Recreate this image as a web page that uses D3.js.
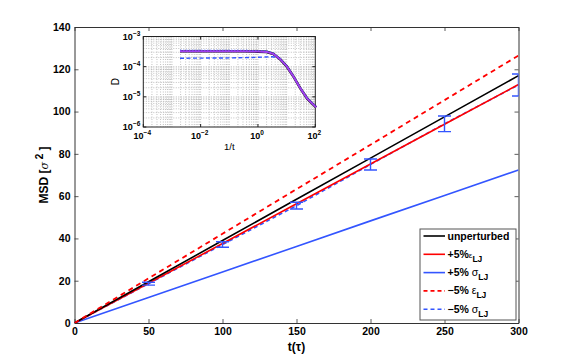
<!DOCTYPE html>
<html><head><meta charset="utf-8">
<script src="https://cdn.jsdelivr.net/npm/d3@7"></script>
<style>
body{margin:0;background:#fff;}
svg{display:block;font-family:"Liberation Sans",Arial,Helvetica,sans-serif;}
</style></head>
<body>
<svg id="c" width="573" height="364"></svg>
<script>
// ---------- data ----------
const times = [0, 50, 100, 150, 200, 250, 300];
const unperturbed = [0, 19.5, 39.0, 58.5, 78.0, 97.5, 117.0];
const plusEps = [0, 18.8, 37.6, 56.4, 75.2, 94.0, 112.8];
const plusSigma = [0, 12.1, 24.1, 36.2, 48.3, 60.3, 72.4];
const minusEps = [0, 21.1, 42.2, 63.3, 84.3, 105.4, 126.5];
const minusSigma = [0, 18.6, 37.1, 55.5, 75.0, 94.2, 112.6];
const errTimes = [50, 100, 150, 200, 250, 300];
const errHalf = [0.7, 1.3, 1.6, 2.6, 3.7, 5.2];
const xTicks = [0, 50, 100, 150, 200, 250, 300];
const yTicks = [0, 20, 40, 60, 80, 100, 120, 140];

// inset: log10(1/t) and log10(D)
const insetLogInvT = [-2.72, -1.5, -0.5, 0.0, 0.3, 0.54, 0.78, 1.01, 1.24, 1.48, 1.71, 2.03];
const insetLogD =     [-3.49, -3.49, -3.49, -3.5, -3.51, -3.58, -3.76, -4.0, -4.33, -4.72, -5.05, -5.35];
const insetDashLogInvT = [-2.72, -1.0, 0.0, 0.5, 0.7, 0.8];
const insetDashLogD =     [-3.72, -3.71, -3.69, -3.67, -3.71, -3.76];
const insetXTickExp = [-4, -2, 0, 2];
const insetYTickExp = [-6, -5, -4, -3];

const legendItems = [
  {pre: "unperturbed", greek: "", sub: "", color: "#000", dash: null},
  {pre: "+5%", greek: "ε", sub: "LJ", color: "#ff0000", dash: null},
  {pre: "+5% ", greek: "σ", sub: "LJ", color: "#3355ff", dash: null},
  {pre: "−5% ", greek: "ε", sub: "LJ", color: "#ff0000", dash: "4,3"},
  {pre: "−5% ", greek: "σ", sub: "LJ", color: "#3355ff", dash: "4,3"}
];

// ---------- main chart ----------
const svg = d3.select("#c");
const L = 74.5, R = 518.5, T = 27, B = 323;
const x = d3.scaleLinear().domain([0, 300]).range([L, R]);
const y = d3.scaleLinear().domain([0, 140]).range([B, T]);

svg.append("defs").append("clipPath").attr("id", "plotclip")
  .append("rect").attr("x", L).attr("y", T).attr("width", R - L).attr("height", B - T);

const axisColor = "#333";
const gx = svg.append("g").attr("transform", `translate(0,${B})`)
  .call(d3.axisBottom(x).tickValues(xTicks).tickSizeInner(-4).tickSizeOuter(0).tickPadding(5));
const gy = svg.append("g").attr("transform", `translate(${L},0)`)
  .call(d3.axisLeft(y).tickValues(yTicks).tickSizeInner(-4).tickSizeOuter(0).tickPadding(4));
const gxt = svg.append("g").attr("transform", `translate(0,${T})`)
  .call(d3.axisTop(x).tickValues(xTicks).tickSizeInner(-4).tickSizeOuter(0).tickFormat(""));
const gyr = svg.append("g").attr("transform", `translate(${R},0)`)
  .call(d3.axisRight(y).tickValues(yTicks).tickSizeInner(-4).tickSizeOuter(0).tickFormat(""));
[gx, gy, gxt, gyr].forEach(g => {
  g.selectAll("path").attr("stroke", axisColor).attr("stroke-width", 1);
  g.selectAll("line").attr("stroke", axisColor).attr("stroke-width", 0.8);
  g.selectAll("text").attr("font-size", 10.5).attr("font-weight", "bold").attr("fill", "#000");
});

const plot = svg.append("g").attr("clip-path", "url(#plotclip)");
const line = d3.line().x((d, i) => x(times[i])).y(d => y(d));
function drawLine(vals, color, dash, w) {
  plot.append("path").datum(vals).attr("d", line).attr("fill", "none")
    .attr("stroke", color).attr("stroke-width", w)
    .attr("stroke-dasharray", dash);
}
drawLine(plusSigma, "#3355ff", null, 1.6);
drawLine(minusSigma, "#3355ff", "4,3", 1.6);
drawLine(plusEps, "#ff0000", null, 1.6);
drawLine(unperturbed, "#000", null, 1.6);
drawLine(minusEps, "#ff0000", "5,4", 1.8);

// error bars
const eb = plot.append("g").attr("stroke", "#3355ff").attr("stroke-width", 1.4);
errTimes.forEach((t, i) => {
  const c = minusSigma[times.indexOf(t)];
  const x0 = x(t), y1 = y(c + errHalf[i]), y2 = y(c - errHalf[i]);
  eb.append("line").attr("x1", x0).attr("x2", x0).attr("y1", y1).attr("y2", y2);
  eb.append("line").attr("x1", x0 - 6.5).attr("x2", x0 + 6.5).attr("y1", y1).attr("y2", y1);
  eb.append("line").attr("x1", x0 - 6.5).attr("x2", x0 + 6.5).attr("y1", y2).attr("y2", y2);
});

// axis labels
svg.append("text").attr("x", x(150)).attr("y", 351).attr("text-anchor", "middle")
  .attr("font-size", 12).attr("font-weight", "bold").text("t(τ)");
const yl = svg.append("text").attr("transform", `translate(48,${(T + B) / 2}) rotate(-90)`)
  .attr("text-anchor", "middle").attr("font-size", 12).attr("font-weight", "bold");
yl.append("tspan").text("MSD [");
yl.append("tspan").attr("font-weight", "normal").attr("font-family", "DejaVu Serif, serif").attr("font-style","italic").attr("font-size", 11).text("σ");
yl.append("tspan").attr("dy", -5).attr("font-size", 10).text(" 2");
yl.append("tspan").attr("dy", 5).text(" ]");

// ---------- legend ----------
const lg = svg.append("g");
lg.append("rect").attr("x", 420).attr("y", 229).attr("width", 96).attr("height", 91)
  .attr("fill", "#fff").attr("stroke", "#555").attr("stroke-width", 1);
legendItems.forEach((it, i) => {
  const yy = 236 + i * 18.3;
  lg.append("line").attr("x1", 423.5).attr("x2", 445).attr("y1", yy).attr("y2", yy)
    .attr("stroke", it.color).attr("stroke-width", 1.6).attr("stroke-dasharray", it.dash);
  const tx = lg.append("text").attr("x", 447.5).attr("y", yy + 3.5).attr("font-size", 10.5).attr("font-weight", "bold");
  tx.append("tspan").text(it.pre);
  if (it.greek) {
    tx.append("tspan").attr("font-weight", "normal").attr("font-size", i === 1 ? 8 : 10.5).text(it.greek);
    tx.append("tspan").attr("dy", 4).attr("font-size", 8.5).text(it.sub);
  }
});

// ---------- inset ----------
const iL = 143.3, iR = 315.3, iT = 36.5, iB = 127;
const ix = d3.scaleLog().domain([1e-4, 1e2]).range([iL, iR]);
const iy = d3.scaleLog().domain([1e-6, 1e-3]).range([iB, iT]);
const ins = svg.append("g");
ins.append("rect").attr("x", iL).attr("y", iT).attr("width", iR - iL).attr("height", iB - iT).attr("fill", "#fff");

// grid
const gridG = ins.append("g").attr("stroke", "#999").attr("stroke-width", 0.6).attr("stroke-dasharray", "1,1.5");
for (let e = -4; e < 2; e++) for (let m = 1; m <= 9; m++) {
  const v = m * Math.pow(10, e); if (v <= 1e-4) continue;
  gridG.append("line").attr("x1", ix(v)).attr("x2", ix(v)).attr("y1", iT).attr("y2", iB);
}
for (let e = -6; e < -3; e++) for (let m = 1; m <= 9; m++) {
  const v = m * Math.pow(10, e); if (v <= 1e-6) continue;
  gridG.append("line").attr("x1", iL).attr("x2", iR).attr("y1", iy(v)).attr("y2", iy(v));
}
ins.append("rect").attr("x", iL).attr("y", iT).attr("width", iR - iL).attr("height", iB - iT)
  .attr("fill", "none").attr("stroke", "#222").attr("stroke-width", 1);

// ticks
insetXTickExp.forEach(e => {
  const v = Math.pow(10, e), px = ix(v);
  ins.append("line").attr("x1", px).attr("x2", px).attr("y1", iB).attr("y2", iB - 3).attr("stroke", "#222");
  ins.append("line").attr("x1", px).attr("x2", px).attr("y1", iT).attr("y2", iT + 3).attr("stroke", "#222");
  const t = ins.append("text").attr("x", px - 1).attr("y", iB + 12).attr("text-anchor", "middle")
    .attr("font-size", 9).attr("font-weight", "bold");
  t.append("tspan").text("10");
  t.append("tspan").attr("dy", -4).attr("font-size", 6.5).text(String(e).replace("-", "−"));
});
insetYTickExp.forEach(e => {
  const v = Math.pow(10, e), py = iy(v);
  ins.append("line").attr("x1", iL).attr("x2", iL + 3).attr("y1", py).attr("y2", py).attr("stroke", "#222");
  ins.append("line").attr("x1", iR).attr("x2", iR - 3).attr("y1", py).attr("y2", py).attr("stroke", "#222");
  const t = ins.append("text").attr("x", iL - 3).attr("y", py + 3).attr("text-anchor", "end")
    .attr("font-size", 9).attr("font-weight", "bold");
  t.append("tspan").text("10");
  t.append("tspan").attr("dy", -4).attr("font-size", 6.5).text(String(e).replace("-", "−"));
});
ins.append("text").attr("x", (iL + iR) / 2).attr("y", iB + 23).attr("text-anchor", "middle")
  .attr("font-size", 9.5).text("1/t");
ins.append("text").attr("transform", `translate(119,${(iT + iB) / 2}) rotate(-90)`)
  .attr("text-anchor", "middle").attr("font-size", 10).text("D");

const iline = (xs) => d3.line().x((d, i) => ix(Math.pow(10, xs[i]))).y(d => iy(Math.pow(10, d)));
ins.append("path").datum(insetLogD).attr("d", iline(insetLogInvT)).attr("fill", "none")
  .attr("stroke", "#000").attr("stroke-width", 2.6);
ins.append("path").datum(insetLogD.map(v => v + 0.03)).attr("d", iline(insetLogInvT)).attr("fill", "none")
  .attr("stroke", "#3355ff").attr("stroke-width", 1.2).attr("stroke-dasharray", "1.5,1.5");
ins.append("path").datum(insetDashLogD).attr("d", iline(insetDashLogInvT)).attr("fill", "none")
  .attr("stroke", "#3355ff").attr("stroke-width", 1.4).attr("stroke-dasharray", "4,2.5");
ins.append("path").datum(insetLogD).attr("d", iline(insetLogInvT)).attr("fill", "none")
  .attr("stroke", "#a040ee").attr("stroke-width", 2);
</script>
</body></html>
